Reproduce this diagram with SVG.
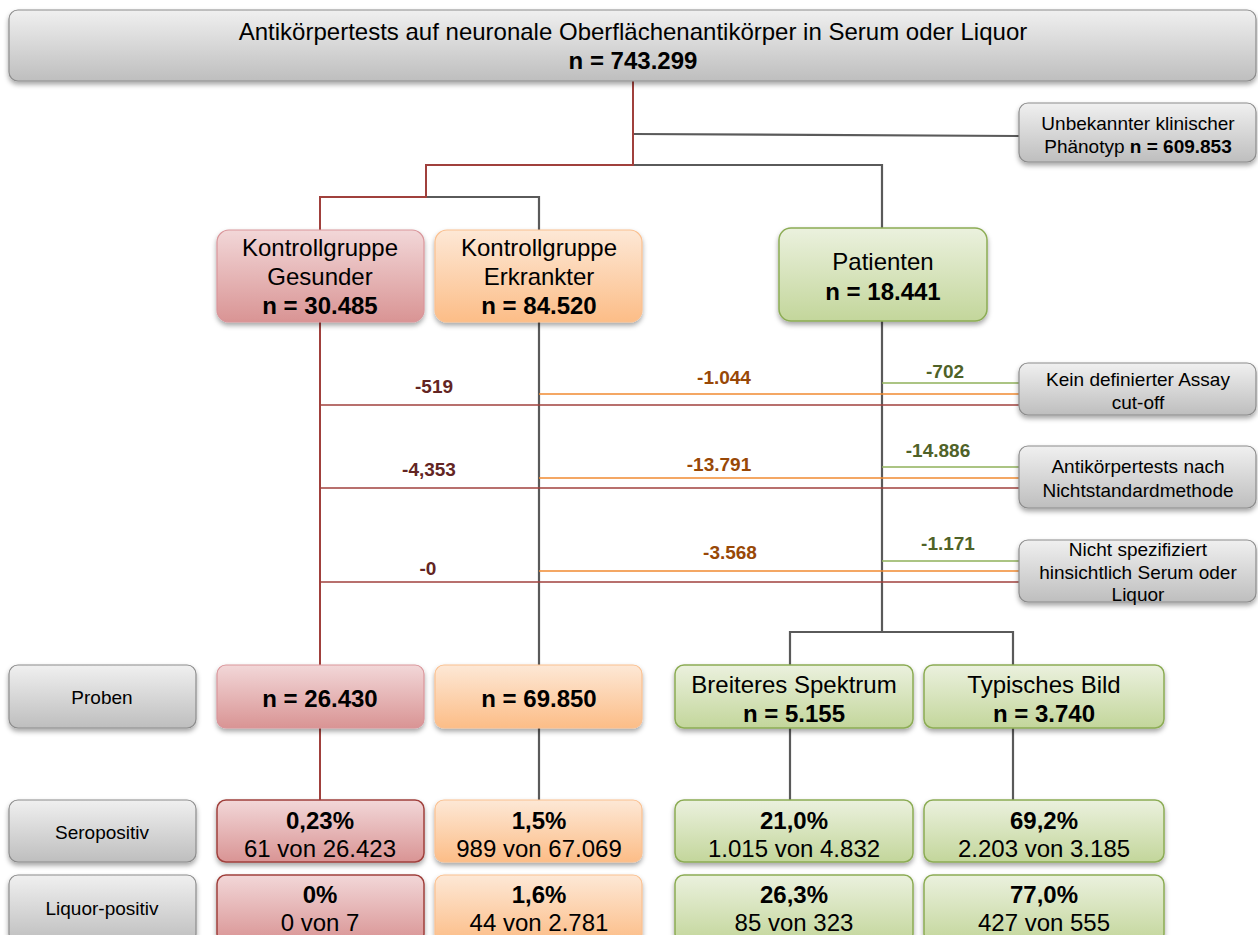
<svg xmlns="http://www.w3.org/2000/svg" width="1258" height="935" viewBox="0 0 1258 935">
<defs>
<linearGradient id="gGray" x1="0" y1="0" x2="0" y2="1"><stop offset="0" stop-color="#f0f0f0"/><stop offset="1" stop-color="#bebebe"/></linearGradient>
<linearGradient id="gRed" x1="0" y1="0" x2="0" y2="1"><stop offset="0" stop-color="#f2d7d8"/><stop offset="1" stop-color="#d99494"/></linearGradient>
<linearGradient id="gOra" x1="0" y1="0" x2="0" y2="1"><stop offset="0" stop-color="#fde8d6"/><stop offset="1" stop-color="#fcbd87"/></linearGradient>
<linearGradient id="gGrn" x1="0" y1="0" x2="0" y2="1"><stop offset="0" stop-color="#ebf1de"/><stop offset="1" stop-color="#c3d69b"/></linearGradient>
<filter id="sh" x="-10%" y="-10%" width="120%" height="140%"><feDropShadow dx="0" dy="3" stdDeviation="2.5" flood-color="#000" flood-opacity="0.35"/></filter>
</defs>
<style>
text{font-family:"Liberation Sans",Arial,sans-serif;text-anchor:middle;fill:#000}
.b{font-weight:bold}
.gray{fill:url(#gGray);stroke:#8c8c8c;stroke-width:1.2;filter:url(#sh)}
.red{fill:url(#gRed);stroke:#d9959a;stroke-width:1.2;filter:url(#sh)}
.red2{fill:url(#gRed);stroke:#a0403c;stroke-width:1.5;filter:url(#sh)}
.ora{fill:url(#gOra);stroke:#fac090;stroke-width:1.2;filter:url(#sh)}
.grn{fill:url(#gGrn);stroke:#8cac54;stroke-width:1.5;filter:url(#sh)}
.lr{stroke:#a0403c;stroke-width:2;fill:none}
.lg{stroke:#5a5a5a;stroke-width:2.2;fill:none}
.lo{stroke:#f08a30;stroke-width:1.6;fill:none}
.lgr{stroke:#8fb05a;stroke-width:1.6;fill:none}
.lrt{stroke:#a0403c;stroke-width:1.6;fill:none}
.t20{font-size:24px}
.t16{font-size:19px}
.lbr{fill:#632523;font-size:19px;font-weight:bold}
.lbo{fill:#984807;font-size:19px;font-weight:bold}
.lbg{fill:#4f6228;font-size:19px;font-weight:bold}
</style>
<g id="connectors">
<polyline class="lg" points="633,134 1019,136"/>
<polyline class="lg" points="633,165 882,165 882,632"/>
<polyline class="lg" points="426,197 539,197 539,800"/>
<polyline class="lr" points="633,81 633,165 426,165 426,197 320,197 320,800"/>
<polyline class="lg" points="790,665 790,632 1013,632 1013,665"/>
<line class="lg" x1="790" y1="728" x2="790" y2="800"/>
<line class="lg" x1="1013" y1="728" x2="1013" y2="800"/>
<line class="lgr" x1="882" y1="383" x2="1019" y2="383"/>
<line class="lo" x1="539" y1="394" x2="1019" y2="394"/>
<line class="lrt" x1="320" y1="405" x2="1019" y2="405"/>
<line class="lgr" x1="882" y1="467" x2="1019" y2="467"/>
<line class="lo" x1="539" y1="478" x2="1019" y2="478"/>
<line class="lrt" x1="320" y1="488" x2="1019" y2="488"/>
<line class="lgr" x1="882" y1="561" x2="1019" y2="561"/>
<line class="lo" x1="539" y1="571" x2="1019" y2="571"/>
<line class="lrt" x1="320" y1="582" x2="1019" y2="582"/>
<text class="lbr" x="434" y="393">-519</text>
<text class="lbo" x="724" y="384">-1.044</text>
<text class="lbg" x="945" y="378">-702</text>
<text class="lbr" x="429" y="476">-4,353</text>
<text class="lbo" x="719" y="471">-13.791</text>
<text class="lbg" x="938" y="457">-14.886</text>
<text class="lbr" x="428" y="575" font-size="17">-0</text>
<text class="lbo" x="730" y="559">-3.568</text>
<text class="lbg" x="948" y="550">-1.171</text>
</g>
<g id="top"><rect class="gray" x="9" y="10" width="1247" height="71" rx="9"/>
<text class="t20" x="633" y="40">Antikörpertests auf neuronale Oberflächenantikörper in Serum oder Liquor</text>
<text class="t20 b" x="633" y="69">n = 743.299</text></g>
<g id="unbekannt"><rect class="gray" x="1019" y="103" width="237" height="59" rx="9"/>
<text class="t16" x="1138" y="130">Unbekannter klinischer</text>
<text class="t16" x="1138" y="153">Phänotyp <tspan class="b">n = 609.853</tspan></text></g>
<g id="gesunder"><rect class="red" x="217" y="230" width="207" height="92" rx="12"/>
<text class="t20" x="320" y="256">Kontrollgruppe</text><text class="t20" x="320" y="285">Gesunder</text><text class="t20 b" x="320" y="314">n = 30.485</text></g>
<g id="erkrankter"><rect class="ora" x="435" y="230" width="207" height="92" rx="12"/>
<text class="t20" x="539" y="256">Kontrollgruppe</text><text class="t20" x="539" y="285">Erkrankter</text><text class="t20 b" x="539" y="314">n = 84.520</text></g>
<g id="patienten"><rect class="grn" x="779" y="228" width="208" height="93" rx="12"/>
<text class="t20" x="883" y="270">Patienten</text><text class="t20 b" x="883" y="300">n = 18.441</text></g>
<g id="assay"><rect class="gray" x="1019" y="363" width="237" height="52" rx="9"/>
<text class="t16" x="1138" y="386">Kein definierter Assay</text><text class="t16" x="1138" y="409">cut-off</text></g>
<g id="nichtstandard"><rect class="gray" x="1019" y="446" width="237" height="62" rx="9"/>
<text class="t16" x="1138" y="473">Antikörpertests nach</text><text class="t16" x="1138" y="497">Nichtstandardmethode</text></g>
<g id="nichtspez"><rect class="gray" x="1019" y="540" width="237" height="62" rx="9"/>
<text class="t16" x="1138" y="556">Nicht spezifiziert</text><text class="t16" x="1138" y="579">hinsichtlich Serum oder</text><text class="t16" x="1138" y="601">Liquor</text></g>
<g id="proben"><rect class="gray" x="9" y="665" width="187" height="63" rx="9"/><text class="t16" x="102" y="704">Proben</text></g>
<g id="p-ges"><rect class="red" x="217" y="665" width="207" height="63" rx="9"/><text class="t20 b" x="320" y="707">n = 26.430</text></g>
<g id="p-erk"><rect class="ora" x="435" y="665" width="207" height="63" rx="9"/><text class="t20 b" x="539" y="707">n = 69.850</text></g>
<g id="breiter"><rect class="grn" x="675" y="665" width="238" height="63" rx="9"/><text class="t20" x="794" y="693">Breiteres Spektrum</text><text class="t20 b" x="794" y="722">n = 5.155</text></g>
<g id="typisch"><rect class="grn" x="924" y="665" width="240" height="63" rx="9"/><text class="t20" x="1044" y="693">Typisches Bild</text><text class="t20 b" x="1044" y="722">n = 3.740</text></g>
<g id="sero"><rect class="gray" x="9" y="800" width="187" height="62" rx="9"/><text class="t16" x="102" y="839">Seropositiv</text></g>
<g id="s-ges"><rect class="red2" x="217" y="800" width="207" height="62" rx="9"/><text class="t20 b" x="320" y="829">0,23%</text><text class="t20" x="320" y="857">61 von 26.423</text></g>
<g id="s-erk"><rect class="ora" x="435" y="800" width="207" height="62" rx="9"/><text class="t20 b" x="539" y="829">1,5%</text><text class="t20" x="539" y="857">989 von 67.069</text></g>
<g id="s-brt"><rect class="grn" x="675" y="800" width="238" height="62" rx="9"/><text class="t20 b" x="794" y="829">21,0%</text><text class="t20" x="794" y="857">1.015 von 4.832</text></g>
<g id="s-typ"><rect class="grn" x="924" y="800" width="240" height="62" rx="9"/><text class="t20 b" x="1044" y="829">69,2%</text><text class="t20" x="1044" y="857">2.203 von 3.185</text></g>
<g id="liq"><rect class="gray" x="9" y="875" width="187" height="68" rx="9"/><text class="t16" x="102" y="915">Liquor-positiv</text></g>
<g id="l-ges"><rect class="red2" x="217" y="875" width="207" height="68" rx="9"/><text class="t20 b" x="320" y="903">0%</text><text class="t20" x="320" y="931">0 von 7</text></g>
<g id="l-erk"><rect class="ora" x="435" y="875" width="207" height="68" rx="9"/><text class="t20 b" x="539" y="903">1,6%</text><text class="t20" x="539" y="931">44 von 2.781</text></g>
<g id="l-brt"><rect class="grn" x="675" y="875" width="238" height="68" rx="9"/><text class="t20 b" x="794" y="903">26,3%</text><text class="t20" x="794" y="931">85 von 323</text></g>
<g id="l-typ"><rect class="grn" x="924" y="875" width="240" height="68" rx="9"/><text class="t20 b" x="1044" y="903">77,0%</text><text class="t20" x="1044" y="931">427 von 555</text></g>
</svg>
